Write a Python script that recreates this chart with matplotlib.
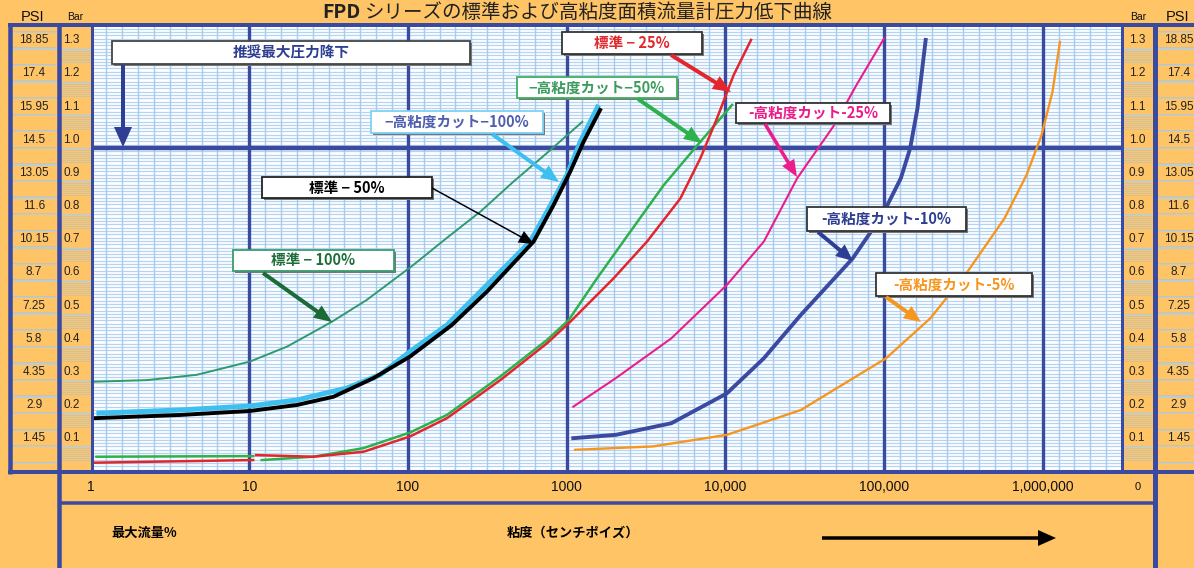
import numpy as np
import matplotlib
matplotlib.use("Agg")
import matplotlib.pyplot as plt
from matplotlib.patches import Rectangle, FancyArrowPatch
from matplotlib.transforms import blended_transform_factory

plt.rcParams['font.family'] = ['Liberation Sans', 'Noto Sans CJK JP', 'DejaVu Sans']
JP = ['Noto Sans CJK JP', 'DejaVu Sans']

W, H = 1194, 568
ORANGE = '#FFC466'
FRAME = '#3A4AA0'
GRID = '#B3D4F2'
GRIDV = '#A6CBEE'

# 圧力低下曲線 (x: 粘度 cP, y: Bar)
std100_x = [1, 2.26, 4.67, 10.1, 17.3, 33.2, 55.1, 108, 176, 286, 461, 752, 1256]
std100_y = [0.295, 0.300, 0.316, 0.356, 0.401, 0.476, 0.542, 0.647, 0.729, 0.808, 0.898, 0.985, 1.079]

hv100_x = [1.09, 3.67, 10.1, 19.95, 41.2, 66.8, 103, 176, 286, 463, 590, 752, 1007, 1220, 1592]
hv100_y = [0.200, 0.210, 0.222, 0.240, 0.276, 0.316, 0.386, 0.466, 0.567, 0.667, 0.718, 0.808, 0.919, 1.019, 1.130]

std50_x = [1.02, 3.67, 10.1, 19.95, 34.0, 60.7, 103, 189, 315, 620, 828, 1055, 1280, 1648]
std50_y = [0.185, 0.195, 0.207, 0.225, 0.250, 0.306, 0.371, 0.466, 0.567, 0.718, 0.828, 0.929, 1.019, 1.120]

hv50a_x = [1.09, 10.6]
hv50a_y = [0.069, 0.071]
hv50_x = [12.0, 25.4, 52.5, 103, 176, 382, 752, 1030, 1555, 2523, 4092, 6966, 11040]
hv50_y = [0.059, 0.069, 0.095, 0.142, 0.195, 0.311, 0.421, 0.481, 0.607, 0.748, 0.888, 1.019, 1.130]

std25a_x = [1.04, 10.6]
std25a_y = [0.051, 0.059]
std25_x = [11.06, 25.4, 52.5, 103, 176, 382, 752, 1055, 1978, 3213, 5213, 6966, 8875, 11290, 14540]
std25_y = [0.074, 0.069, 0.084, 0.130, 0.185, 0.300, 0.411, 0.476, 0.607, 0.718, 0.848, 0.969, 1.090, 1.220, 1.326]

hv25_x = [1102, 2043, 4571, 10230, 17510, 28400, 48600, 67100, 100300]
hv25_y = [0.220, 0.306, 0.426, 0.587, 0.718, 0.909, 1.069, 1.190, 1.331]

hv10_x = [1102, 2043, 4571, 10230, 17510, 29970, 63500, 97700, 127800, 146200, 162700, 183200]
hv10_y = [0.125, 0.135, 0.170, 0.260, 0.366, 0.497, 0.667, 0.798, 0.909, 0.999, 1.120, 1.326]

hv5_x = [1132, 3494, 10230, 29970, 103100, 196400, 336000, 575000, 792000, 984000, 1154000, 1285000]
hv5_y = [0.090, 0.100, 0.135, 0.210, 0.366, 0.487, 0.627, 0.788, 0.919, 1.039, 1.170, 1.320]

bar_ticks = [0.1, 0.2, 0.3, 0.4, 0.5, 0.6, 0.7, 0.8, 0.9, 1.0, 1.1, 1.2, 1.3]
bar_labels = ['0.1', '0.2', '0.3', '0.4', '0.5', '0.6', '0.7', '0.8', '0.9', '1.0', '1.1', '1.2', '1.3']
psi_labels = ['1.45', '2.9', '4.35', '5.8', '7.25', '8.7', '10.15', '11.6', '13.05', '14.5', '15.95', '17.4', '18.85']
x_ticks = [1, 10, 100, 1000, 10000, 100000, 1000000]
x_labels = ['1', '10', '100', '1000', '10,000', '100,000', '1,000,000']
max_drop = 1.0

Y_BOT, Y_TOP = 0.029, 1.365
X_MIN, X_MAX = 1, 10 ** 6.5

fig = plt.figure(figsize=(W / 100, H / 100), dpi=100, facecolor=ORANGE)

# メインのグラフ
ax = fig.add_axes([90.5 / W, (H - 470) / H, (1122 - 90.5) / W, (470 - 27) / H])
ax.set_facecolor('white')
ax.set_xscale('log')
ax.set_xlim(X_MIN, X_MAX)
ax.set_ylim(Y_BOT, Y_TOP)
ax.set_xticks([])
ax.set_yticks([])
ax.minorticks_off()
for s in ax.spines.values():
    s.set_visible(False)

for v in np.arange(0.03, 1.37, 0.01):
    ax.axhline(v, color=GRID, lw=0.9, zorder=1)
for k in np.arange(0.1, 6.5, 0.1):
    if abs(k - round(k)) > 0.01:
        ax.axvline(10 ** k, color=GRIDV, lw=1.0, zorder=1)
for d in x_ticks[1:]:
    ax.axvline(d, color=FRAME, lw=2.4, zorder=2)
ax.axhline(max_drop, color=FRAME, lw=3.2, zorder=2)

ax.plot(std100_x, std100_y, color='#2F9A6B', lw=1.4, zorder=4)
ax.plot(hv100_x, hv100_y, color='#3DBFEF', lw=3.6, zorder=4, solid_capstyle='butt')
ax.plot(std50_x, std50_y, color='black', lw=2.8, zorder=5, solid_capstyle='butt')
ax.plot(hv50a_x, hv50a_y, color='#2DB14B', lw=1.8, zorder=4)
ax.plot(hv50_x, hv50_y, color='#2DB14B', lw=1.8, zorder=4)
ax.plot(std25a_x, std25a_y, color='#E3262C', lw=1.8, zorder=4)
ax.plot(std25_x, std25_y, color='#E3262C', lw=1.8, zorder=4)
ax.plot(hv25_x, hv25_y, color='#EC1C8B', lw=1.5, zorder=4)
ax.plot(hv10_x, hv10_y, color=FRAME, lw=2.8, zorder=4)
ax.plot(hv5_x, hv5_y, color='#F7961E', lw=1.7, zorder=4)


def column(x0, x1):
    c = fig.add_axes([x0 / W, (H - 470) / H, (x1 - x0) / W, (470 - 27) / H])
    c.set_facecolor(ORANGE)
    c.set_xlim(0, 1)
    c.set_ylim(Y_BOT, Y_TOP)
    c.set_xticks([])
    c.set_yticks([])
    for s in c.spines.values():
        s.set_visible(False)
    return c


psi_l = column(11.7, 56.5)
bar_l = column(60.5, 90.5)
bar_r = column(1122, 1152)
psi_r = column(1157, 1200)

for c, xl in [(bar_l, 0.37), (bar_r, 0.5)]:
    for v, lab in zip(bar_ticks, bar_labels):
        c.axhline(v, color='#A9CFF0', lw=1.0)
        for i in range(1, 8):
            c.axhline(v - 0.006 * i, color='#CDC2A8', lw=0.7)
        c.text(xl, v + 0.025, lab, ha='center', va='center', fontsize=8.5, color='#222')

for c, xl in [(psi_l, 0.5), (psi_r, 0.5)]:
    for v in np.arange(0.05, 1.36, 0.05):
        c.axhline(v, color='#A9CFF0', lw=1.1)
        c.axhline(v + 0.004, color='#CDC2A8', lw=0.7)
    for v, lab in zip(bar_ticks, psi_labels):
        c.text(xl, v + 0.025, lab, ha='center', va='center', fontsize=8.5, color='#222')

# 枠と注記 (ピクセル座標)
ov = fig.add_axes([0, 0, 1, 1], zorder=10)
ov.set_xlim(0, W)
ov.set_ylim(H, 0)
ov.axis('off')
ov.patch.set_alpha(0)

px = 100 / 72
ov.plot([7.5, W], [25, 25], color=FRAME, lw=4 / px, solid_capstyle='butt')
ov.plot([7.5, W], [472, 472], color=FRAME, lw=4 / px, solid_capstyle='butt')
ov.plot([9.5, 9.5], [23, 474], color=FRAME, lw=4.5 / px, solid_capstyle='butt')
ov.plot([58.5, 58.5], [23, H], color=FRAME, lw=4.5 / px, solid_capstyle='butt')
ov.plot([91.5, 91.5], [23, 472], color=FRAME, lw=3 / px, solid_capstyle='butt')
ov.plot([1121.5, 1121.5], [23, 472], color=FRAME, lw=3 / px, solid_capstyle='butt')
ov.plot([1154.5, 1154.5], [23, H], color=FRAME, lw=5 / px, solid_capstyle='butt')
ov.plot([58, 1154], [503.3, 503.3], color=FRAME, lw=3.5 / px, solid_capstyle='butt')

ov.text(322, 17.5, 'FPD', fontsize=14, fontweight='bold', color='#222', ha='left', va='baseline', family=JP)
ov.text(365, 17.5, 'シリーズの標準および高粘度面積流量計圧力低下曲線', fontsize=14, color='#222',
        ha='left', va='baseline', family=JP)

ov.text(33, 17, 'PSI', fontsize=10.5, ha='center', va='center', color='#111')
ov.text(75, 17, 'Bar', fontsize=7.5, ha='center', va='center', color='#111')
ov.text(1138, 17, 'Bar', fontsize=7.5, ha='center', va='center', color='#111')
ov.text(1178, 17, 'PSI', fontsize=10.5, ha='center', va='center', color='#111')

tr = blended_transform_factory(ax.transData, ov.transData)
for v, lab in zip(x_ticks, x_labels):
    ov.text(v, 487, lab, transform=tr, ha='center', va='center', fontsize=10, color='#111')
ov.text(1138, 487, '0', ha='center', va='center', fontsize=8, color='#111')

ov.text(111, 533, '最大流量%', ha='left', va='center', fontsize=9.5, fontweight='bold', family=JP)
ov.text(507, 533, '粘度（センチポイズ）', ha='left', va='center', fontsize=9.5, fontweight='bold', family=JP)


def arrow(x0, y0, x1, y1, color, tail=3.5, hl=17, hw=15):
    ov.add_patch(FancyArrowPatch(
        (x0, y0), (x1, y1),
        arrowstyle=f'simple,head_length={hl / px},head_width={hw / px},tail_width={tail / px}',
        mutation_scale=1, color=color, lw=0, zorder=7, shrinkA=0, shrinkB=0))


def label_box(x0, y0, x1, y1, text, tcolor, ecolor, size=10.5):
    ov.add_patch(Rectangle((x0 + 1.5, y0 + 1.5), x1 - x0, y1 - y0, fc='#777', ec='none', zorder=5))
    ov.add_patch(Rectangle((x0, y0), x1 - x0, y1 - y0, fc='white', ec=ecolor, lw=1.3, zorder=6))
    ov.text((x0 + x1) / 2, (y0 + y1) / 2, text, color=tcolor, fontsize=size, fontweight='bold',
            ha='center', va='center', family=JP, zorder=8)


arrow(822, 538, 1056, 538, 'black', tail=3.5, hl=18, hw=16)

label_box(112, 41, 470, 64, '推奨最大圧力降下', '#2E3E92', '#444444')
arrow(123, 65, 123, 147, '#2E3E92', tail=4, hl=20, hw=18)

label_box(562, 32, 702, 54, '標準 − 25%', '#E3262C', '#333333')
arrow(671, 55, 731, 92, '#E3262C', tail=4, hl=18, hw=15)

label_box(517, 77, 677, 98, '−高粘度カット−50%', '#3C9C5E', '#3DB060')
arrow(638, 99, 702, 143, '#2DB14B', tail=4, hl=18, hw=15)

label_box(371, 111, 543, 133, '−高粘度カット−100%', '#4F5FAE', '#7FD0F2')
arrow(492, 134, 559, 182, '#3DBFEF', tail=4, hl=18, hw=15)

label_box(736, 103, 890, 123, '-高粘度カット-25%', '#EC1C8B', '#333333')
arrow(765, 124, 797, 177, '#EC1C8B', tail=3.5, hl=17, hw=14)

label_box(262, 177, 432, 198, '標準 − 50%', 'black', '#222222')
arrow(432, 188, 534, 244, 'black', tail=1.5, hl=15, hw=13)

label_box(233, 250, 394, 271, '標準 − 100%', '#1E6E3C', '#3C9C6E')
arrow(263, 273, 332, 322, '#1A6B35', tail=4, hl=18, hw=15)

label_box(807, 207, 966, 231, '-高粘度カット-10%', '#2E3E92', '#333333')
arrow(818, 232, 853, 261, '#2E3E92', tail=4, hl=17, hw=15)

label_box(876, 273, 1032, 296, '-高粘度カット-5%', '#F7961E', '#333333')
arrow(886, 297, 921, 322, '#F7961E', tail=4, hl=17, hw=15)

fig.savefig('out.png', dpi=100, facecolor=ORANGE)
